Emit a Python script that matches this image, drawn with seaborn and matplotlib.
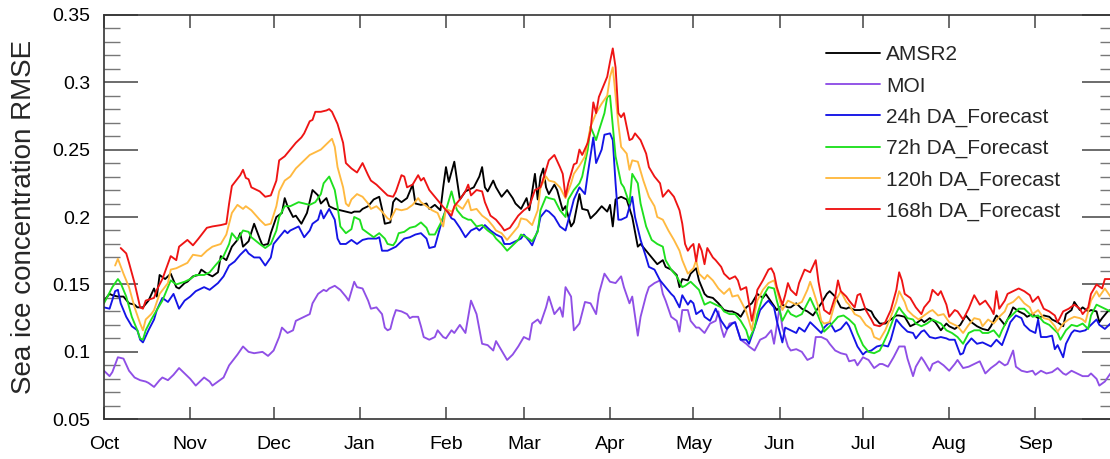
import matplotlib
matplotlib.use("Agg")
import numpy as np
import pandas as pd
import seaborn as sns
import matplotlib.pyplot as plt
from matplotlib.ticker import MultipleLocator, FixedLocator, NullLocator, FuncFormatter
from matplotlib.lines import Line2D

# ---------------- data (day index from 1 Oct, RMSE) ----------------
month_days = [0, 31, 61, 92, 123, 151, 182, 212, 243, 273, 304, 335]
month_labels = ["Oct", "Nov", "Dec", "Jan", "Feb", "Mar", "Apr", "May", "Jun", "Jul", "Aug", "Sep"]

series_names = ["AMSR2", "MOI", "24h DA_Forecast", "72h DA_Forecast",
                "120h DA_Forecast", "168h DA_Forecast"]
series_colors = ["#000000", "#8f4fe6", "#1414e6", "#1ee01e", "#ffb940", "#ee1414"]

amsr2_day = [0, 2, 3, 5, 7, 9, 11, 12, 14, 16, 18, 19, 20, 22, 24, 26, 27, 29, 30, 32, 34, 35, 37, 39, 41, 42, 44, 46, 48, 49, 50, 52, 54, 56, 57, 59, 60, 62, 64, 65, 66, 68, 69, 71, 73, 75, 77, 78, 80, 81, 83, 85, 87, 89, 90, 92, 93, 95, 97, 99, 100, 101, 103, 104, 105, 107, 109, 111, 112, 114, 116, 117, 119, 121, 122, 123, 124, 126, 127, 128, 130, 132, 133, 135, 136, 137, 138, 140, 141, 143, 145, 147, 148, 150, 152, 153, 155, 156, 157, 158, 159, 160, 162, 163, 165, 166, 168, 169, 171, 172, 174, 175, 177, 179, 181, 182, 183, 184, 186, 188, 190, 192, 193, 195, 197, 199, 201, 202, 204, 206, 207, 208, 210, 211, 213, 214, 216, 217, 219, 221, 223, 225, 226, 228, 229, 231, 233, 235, 237, 238, 240, 242, 244, 246, 247, 249, 251, 253, 255, 256, 258, 260, 261, 263, 265, 267, 268, 270, 272, 274, 276, 277, 279, 281, 283, 285, 286, 288, 290, 292, 294, 295, 297, 299, 301, 303, 304, 306, 308, 310, 312, 314, 316, 318, 319, 321, 322, 324, 326, 327, 329, 331, 332, 334, 336, 338, 340, 341, 343, 345, 346, 348, 349, 351, 352, 354, 355, 357, 358, 359, 361, 362, 364]
amsr2_val = [.138, .143, .142, .141, .141, .136, .135, .133, .133, .138, .147, .141, .157, .154, .158, .148, .147, .151, .152, .156, .157, .161, .158, .156, .159, .171, .168, .178, .183, .188, .178, .182, .195, .184, .179, .180, .188, .200, .203, .214, .208, .200, .201, .195, .203, .220, .216, .210, .214, .208, .206, .205, .204, .203, .204, .204, .206, .208, .213, .215, .206, .195, .196, .211, .214, .211, .214, .224, .210, .209, .210, .206, .209, .205, .222, .237, .226, .241, .227, .213, .219, .221, .222, .230, .237, .222, .219, .227, .222, .215, .220, .214, .210, .206, .214, .205, .232, .213, .230, .236, .222, .217, .224, .220, .205, .208, .193, .196, .217, .206, .205, .199, .203, .208, .204, .209, .193, .213, .215, .213, .200, .178, .180, .175, .170, .165, .168, .163, .161, .157, .148, .154, .153, .158, .162, .153, .143, .141, .140, .136, .131, .130, .130, .128, .126, .133, .136, .143, .140, .143, .137, .131, .135, .133, .133, .136, .132, .130, .127, .130, .136, .143, .145, .141, .133, .132, .133, .131, .131, .132, .130, .126, .121, .121, .124, .127, .127, .126, .119, .121, .124, .122, .125, .122, .116, .121, .119, .117, .120, .127, .122, .119, .117, .116, .119, .127, .125, .120, .128, .133, .130, .128, .126, .128, .125, .127, .126, .124, .122, .119, .128, .131, .137, .131, .133, .130, .131, .130, .122, .125, .130, .131, .130]

moi_day = [0, 2, 3, 5, 7, 9, 11, 13, 15, 16, 18, 20, 21, 23, 25, 27, 29, 31, 33, 35, 36, 38, 39, 41, 43, 45, 48, 50, 52, 54, 57, 59, 61, 63, 64, 66, 68, 69, 72, 74, 75, 77, 79, 80, 81, 83, 85, 87, 88, 90, 91, 93, 95, 96, 98, 100, 101, 102, 103, 104, 105, 107, 109, 110, 111, 113, 114, 115, 117, 119, 120, 122, 123, 125, 126, 128, 130, 132, 133, 134, 136, 138, 140, 141, 143, 145, 146, 147, 149, 151, 153, 154, 156, 157, 159, 160, 162, 164, 165, 166, 168, 169, 171, 173, 175, 177, 178, 180, 182, 184, 186, 187, 189, 190, 192, 193, 195, 196, 198, 200, 201, 202, 204, 206, 207, 208, 210, 211, 213, 214, 216, 218, 220, 221, 222, 223, 225, 227, 229, 231, 232, 234, 236, 238, 240, 241, 243, 244, 246, 247, 249, 251, 253, 255, 256, 258, 260, 261, 263, 265, 267, 268, 270, 271, 273, 275, 277, 279, 280, 282, 284, 286, 288, 289, 291, 292, 294, 295, 297, 298, 300, 302, 304, 306, 307, 309, 311, 313, 315, 317, 319, 321, 322, 324, 325, 327, 328, 330, 332, 334, 335, 337, 339, 341, 343, 345, 346, 348, 350, 352, 354, 355, 357, 358, 360, 362, 364]
moi_val = [.086, .082, .085, .096, .095, .086, .081, .079, .078, .077, .074, .079, .081, .079, .083, .088, .084, .080, .075, .079, .081, .078, .075, .078, .081, .090, .098, .104, .100, .099, .100, .097, .101, .111, .118, .114, .116, .123, .126, .128, .136, .143, .146, .145, .147, .149, .146, .141, .138, .152, .148, .147, .138, .132, .133, .128, .118, .116, .117, .125, .131, .130, .128, .125, .126, .126, .119, .111, .109, .111, .116, .111, .110, .116, .114, .120, .114, .138, .133, .128, .106, .105, .101, .108, .101, .094, .096, .098, .104, .111, .109, .121, .124, .121, .133, .141, .128, .133, .126, .148, .141, .116, .121, .137, .136, .128, .143, .158, .152, .151, .156, .148, .136, .141, .112, .126, .142, .148, .151, .153, .143, .138, .126, .123, .115, .131, .131, .123, .118, .118, .114, .121, .123, .130, .118, .111, .121, .122, .109, .106, .104, .101, .109, .111, .116, .106, .133, .118, .104, .101, .102, .100, .094, .096, .111, .111, .109, .106, .101, .099, .098, .093, .094, .090, .096, .094, .088, .091, .091, .089, .096, .104, .104, .095, .082, .089, .096, .093, .086, .091, .093, .090, .086, .091, .094, .088, .089, .091, .093, .084, .088, .091, .093, .090, .091, .101, .089, .086, .085, .086, .083, .086, .084, .085, .088, .084, .083, .086, .084, .082, .082, .084, .080, .075, .078, .084, .086]

f24_day = [0, 2, 4, 5, 6, 8, 10, 12, 13, 14, 16, 18, 19, 21, 23, 25, 27, 29, 31, 33, 36, 38, 41, 43, 45, 47, 49, 51, 52, 54, 56, 58, 60, 61, 63, 65, 66, 67, 70, 72, 74, 75, 77, 78, 79, 81, 83, 84, 85, 87, 89, 91, 93, 95, 96, 98, 99, 100, 102, 104, 105, 107, 108, 110, 112, 114, 116, 117, 119, 121, 123, 125, 126, 128, 130, 132, 134, 135, 137, 139, 141, 143, 144, 146, 148, 150, 151, 153, 154, 156, 157, 159, 160, 162, 164, 166, 168, 169, 171, 173, 174, 176, 177, 179, 180, 182, 183, 184, 185, 186, 188, 190, 191, 193, 195, 196, 198, 200, 202, 204, 205, 207, 208, 210, 211, 212, 213, 215, 216, 218, 220, 222, 224, 226, 227, 229, 231, 232, 234, 236, 238, 239, 241, 242, 244, 245, 247, 249, 250, 252, 254, 256, 258, 259, 261, 263, 265, 267, 268, 270, 271, 273, 274, 276, 278, 280, 282, 283, 285, 287, 289, 291, 292, 294, 295, 297, 299, 301, 303, 304, 306, 308, 309, 310, 312, 314, 316, 318, 319, 321, 323, 325, 326, 328, 330, 331, 333, 335, 336, 337, 339, 341, 342, 343, 345, 346, 348, 349, 351, 353, 355, 357, 358, 360, 362, 364]
f24_val = [.133, .132, .145, .146, .136, .126, .119, .116, .109, .107, .116, .124, .131, .140, .137, .143, .132, .138, .141, .145, .148, .146, .151, .156, .164, .167, .172, .176, .173, .170, .170, .164, .170, .180, .185, .190, .188, .190, .193, .185, .190, .195, .198, .205, .199, .206, .198, .184, .180, .180, .183, .180, .183, .184, .184, .184, .185, .175, .175, .177, .178, .182, .184, .185, .187, .188, .184, .177, .178, .193, .206, .199, .198, .192, .185, .190, .192, .190, .194, .190, .187, .185, .180, .180, .182, .184, .187, .182, .179, .190, .200, .205, .204, .200, .193, .190, .205, .213, .222, .217, .232, .259, .240, .250, .261, .262, .257, .225, .198, .198, .200, .215, .200, .183, .170, .163, .161, .153, .148, .143, .141, .133, .142, .135, .138, .136, .128, .131, .126, .123, .132, .123, .117, .121, .122, .109, .109, .106, .118, .131, .136, .138, .133, .123, .107, .118, .116, .114, .118, .115, .122, .118, .114, .118, .122, .115, .117, .122, .119, .109, .104, .098, .100, .101, .104, .105, .104, .109, .124, .119, .115, .114, .110, .115, .116, .111, .110, .111, .110, .109, .109, .098, .099, .105, .110, .106, .107, .105, .104, .109, .105, .116, .122, .127, .125, .120, .116, .114, .124, .111, .111, .112, .102, .105, .096, .106, .114, .116, .115, .116, .120, .124, .120, .117, .121, .120]

f72_day = [0, 3, 5, 6, 8, 10, 12, 13, 14, 15, 17, 19, 21, 23, 24, 26, 29, 31, 33, 36, 38, 40, 43, 45, 46, 48, 50, 52, 53, 56, 58, 60, 62, 63, 65, 67, 69, 70, 72, 74, 76, 78, 79, 81, 82, 83, 84, 85, 87, 89, 90, 92, 93, 95, 97, 99, 101, 102, 104, 105, 106, 108, 110, 112, 114, 116, 117, 119, 121, 123, 125, 126, 127, 129, 131, 132, 134, 136, 138, 140, 141, 143, 145, 147, 149, 150, 152, 154, 156, 157, 159, 160, 162, 164, 166, 167, 169, 171, 172, 174, 175, 177, 178, 180, 181, 182, 184, 186, 187, 189, 190, 192, 193, 195, 197, 199, 201, 202, 204, 206, 208, 209, 211, 213, 214, 216, 218, 220, 222, 223, 225, 227, 229, 231, 232, 234, 235, 237, 239, 241, 242, 244, 246, 247, 249, 251, 253, 254, 256, 258, 259, 261, 264, 266, 268, 270, 271, 273, 275, 277, 279, 280, 282, 284, 286, 287, 289, 291, 292, 294, 296, 298, 300, 301, 303, 305, 307, 309, 311, 313, 315, 316, 318, 320, 322, 323, 325, 327, 329, 331, 333, 334, 336, 338, 340, 342, 343, 344, 346, 348, 350, 352, 354, 355, 357, 359, 361, 362, 364]
f72_val = [.136, .148, .154, .151, .141, .126, .116, .110, .109, .116, .124, .131, .138, .148, .153, .150, .152, .154, .157, .157, .159, .164, .171, .180, .188, .183, .190, .189, .185, .180, .177, .180, .190, .200, .208, .208, .210, .211, .210, .209, .211, .217, .225, .230, .225, .220, .208, .193, .188, .191, .200, .198, .191, .188, .185, .188, .184, .180, .179, .182, .188, .189, .192, .193, .196, .192, .187, .187, .195, .205, .219, .211, .205, .200, .198, .198, .193, .194, .190, .187, .184, .180, .175, .179, .183, .187, .185, .182, .189, .205, .215, .214, .213, .205, .200, .213, .220, .225, .230, .250, .267, .257, .264, .277, .289, .290, .245, .225, .222, .210, .232, .225, .210, .193, .183, .180, .178, .168, .161, .156, .148, .149, .152, .148, .146, .135, .137, .135, .133, .130, .128, .128, .123, .116, .109, .118, .128, .141, .148, .147, .138, .123, .131, .128, .126, .128, .136, .140, .131, .121, .115, .119, .126, .127, .124, .120, .114, .105, .100, .099, .101, .105, .114, .125, .133, .130, .125, .124, .121, .119, .121, .124, .122, .121, .116, .114, .111, .106, .114, .116, .116, .114, .114, .116, .111, .116, .124, .128, .132, .132, .128, .126, .127, .122, .120, .116, .114, .109, .116, .120, .119, .121, .117, .127, .135, .133, .131, .130, .132]

f120_day = [4, 5, 7, 9, 11, 13, 14, 15, 17, 18, 20, 23, 24, 26, 28, 30, 32, 35, 37, 39, 42, 44, 46, 48, 50, 51, 53, 56, 58, 60, 62, 63, 65, 67, 69, 71, 72, 74, 76, 78, 79, 81, 82, 83, 84, 86, 87, 88, 89, 91, 93, 95, 96, 98, 100, 102, 103, 105, 107, 109, 111, 113, 114, 116, 118, 120, 122, 123, 125, 127, 129, 131, 132, 134, 136, 138, 140, 141, 143, 145, 147, 149, 150, 152, 154, 156, 157, 159, 160, 162, 164, 166, 168, 169, 171, 173, 175, 176, 177, 179, 181, 182, 183, 185, 186, 188, 189, 190, 192, 194, 196, 198, 199, 201, 203, 205, 207, 208, 210, 212, 213, 214, 216, 217, 219, 221, 223, 225, 226, 228, 229, 231, 232, 233, 234, 235, 237, 239, 241, 242, 244, 246, 247, 249, 251, 253, 254, 255, 257, 258, 259, 261, 263, 265, 267, 268, 270, 272, 274, 276, 277, 279, 281, 283, 285, 286, 288, 289, 291, 293, 295, 297, 298, 300, 302, 304, 306, 307, 309, 311, 313, 315, 316, 318, 320, 322, 324, 325, 327, 329, 331, 333, 334, 336, 338, 340, 342, 343, 345, 347, 349, 351, 352, 353, 355, 357, 358, 360, 362, 364]
f120_val = [.164, .169, .158, .148, .133, .121, .116, .124, .128, .131, .143, .151, .161, .162, .164, .166, .172, .171, .175, .178, .180, .187, .203, .209, .206, .208, .205, .198, .194, .195, .208, .219, .227, .230, .236, .240, .242, .246, .248, .250, .252, .256, .258, .252, .237, .222, .210, .208, .213, .217, .215, .210, .206, .208, .204, .199, .198, .206, .205, .206, .209, .214, .211, .208, .205, .203, .193, .206, .204, .209, .206, .213, .205, .206, .201, .198, .193, .190, .188, .183, .188, .193, .199, .198, .194, .205, .222, .230, .227, .226, .222, .214, .225, .232, .238, .245, .267, .272, .277, .284, .290, .304, .311, .269, .252, .247, .235, .242, .241, .227, .215, .208, .200, .198, .190, .183, .175, .168, .158, .162, .168, .158, .154, .157, .153, .147, .143, .147, .141, .142, .138, .130, .123, .116, .128, .138, .146, .151, .153, .146, .131, .138, .137, .135, .137, .146, .152, .146, .133, .123, .121, .122, .137, .145, .137, .135, .128, .126, .120, .117, .111, .109, .116, .126, .137, .145, .137, .131, .127, .124, .127, .130, .131, .127, .128, .122, .120, .119, .114, .120, .125, .124, .119, .124, .121, .126, .130, .135, .137, .141, .136, .133, .128, .131, .125, .124, .119, .115, .121, .124, .126, .125, .124, .122, .138, .145, .141, .147, .141, .143]

f168_day = [6, 8, 9, 11, 13, 14, 15, 18, 19, 21, 24, 26, 27, 30, 32, 34, 37, 39, 42, 44, 45, 46, 49, 50, 51, 52, 53, 56, 58, 60, 62, 63, 65, 67, 69, 71, 72, 74, 75, 76, 78, 80, 81, 82, 84, 86, 87, 89, 91, 93, 95, 96, 98, 100, 102, 104, 105, 107, 108, 109, 111, 113, 114, 115, 117, 119, 121, 123, 125, 126, 128, 130, 131, 132, 134, 136, 137, 139, 141, 143, 144, 146, 147, 149, 151, 153, 155, 157, 159, 160, 162, 164, 165, 166, 167, 169, 170, 171, 172, 174, 175, 176, 177, 178, 180, 181, 182, 183, 184, 185, 186, 187, 189, 190, 191, 193, 195, 196, 198, 200, 201, 203, 205, 207, 208, 209, 210, 211, 212, 213, 214, 215, 216, 217, 219, 220, 222, 223, 225, 227, 228, 229, 231, 232, 233, 234, 235, 237, 239, 240, 241, 242, 244, 245, 246, 247, 249, 250, 252, 254, 256, 257, 258, 259, 261, 263, 264, 265, 267, 268, 270, 271, 272, 274, 276, 277, 279, 281, 283, 285, 286, 287, 288, 290, 292, 294, 295, 297, 298, 300, 301, 303, 304, 306, 307, 309, 311, 312, 313, 315, 317, 319, 320, 321, 322, 324, 325, 327, 329, 331, 333, 334, 336, 338, 340, 342, 343, 345, 347, 349, 351, 352, 354, 355, 357, 359, 360, 362, 364]
f168_val = [.177, .173, .166, .151, .133, .132, .138, .140, .146, .154, .171, .168, .178, .183, .179, .184, .192, .193, .194, .195, .210, .223, .231, .235, .229, .228, .222, .219, .215, .216, .227, .242, .245, .250, .255, .259, .262, .271, .272, .278, .278, .279, .280, .278, .269, .255, .240, .236, .233, .240, .231, .227, .224, .220, .216, .215, .219, .231, .230, .222, .224, .231, .227, .229, .220, .215, .210, .205, .201, .208, .213, .219, .224, .216, .220, .219, .211, .201, .198, .193, .190, .192, .195, .201, .205, .208, .220, .222, .235, .242, .246, .237, .232, .215, .225, .239, .240, .250, .246, .255, .264, .285, .277, .289, .299, .304, .315, .325, .311, .277, .274, .277, .257, .258, .262, .257, .247, .237, .230, .225, .215, .220, .215, .205, .195, .180, .175, .178, .180, .167, .180, .175, .165, .177, .170, .168, .163, .158, .154, .156, .153, .146, .148, .136, .123, .133, .146, .153, .161, .162, .158, .148, .135, .142, .151, .146, .142, .151, .161, .159, .168, .152, .141, .131, .128, .141, .153, .145, .141, .138, .133, .142, .143, .131, .124, .120, .119, .122, .131, .146, .159, .153, .143, .140, .133, .128, .133, .138, .146, .142, .145, .135, .126, .131, .130, .124, .132, .137, .142, .135, .138, .132, .128, .145, .132, .138, .143, .145, .147, .145, .142, .137, .141, .132, .130, .127, .122, .130, .132, .135, .132, .128, .133, .143, .150, .147, .154, .154, .155]

# ---------------- build long table ----------------
all_days = [amsr2_day, moi_day, f24_day, f72_day, f120_day, f168_day]
all_vals = [amsr2_val, moi_val, f24_val, f72_val, f120_val, f168_val]
frames = []
for name, d, v in zip(series_names, all_days, all_vals):
    frames.append(pd.DataFrame({"day": d, "rmse": v, "series": name}))
df = pd.concat(frames, ignore_index=True)

sns.set_theme(style="white")
plt.rcParams["font.family"] = ["Liberation Sans", "DejaVu Sans"]

W, H = 1110, 459
fig = plt.figure(figsize=(W / 100, H / 100), dpi=100)
left_px, right_px, top_px, bot_px = 104, 1116, 14.7, 419.3
ax = fig.add_axes([left_px / W, (H - bot_px) / H, (right_px - left_px) / W, (bot_px - top_px) / H])

palette = dict(zip(series_names, series_colors))
sns.lineplot(data=df, x="day", y="rmse", hue="series", hue_order=series_names,
             palette=palette, estimator=None, sort=True, linewidth=1.35,
             legend=False, ax=ax)

ax.set_xlim(0, 364)
ax.set_ylim(0.05, 0.35)
ax.set_xlabel("")
ax.set_ylabel("Sea ice concentration RMSE", fontsize=20)
ax.yaxis.set_label_coords(-0.066, 0.5)

ax.xaxis.set_major_locator(FixedLocator(month_days))
ax.set_xticklabels(month_labels)
ax.xaxis.set_minor_locator(NullLocator())
ax.yaxis.set_major_locator(MultipleLocator(0.05))
ax.yaxis.set_minor_locator(MultipleLocator(0.01))
ax.yaxis.set_major_formatter(FuncFormatter(lambda v, p: f"{v:g}"))

tick_col = "#444444"
ax.tick_params(axis="x", which="major", direction="in", length=9, width=1.1,
               top=True, bottom=True, labelsize=14, pad=12, color=tick_col, labelcolor="black")
ax.tick_params(axis="y", which="major", direction="in", length=24.5, width=1.1,
               left=True, right=True, labelsize=14, pad=10, color=tick_col, labelcolor="black")
ax.tick_params(axis="y", which="minor", direction="in", length=11.5, width=1.0,
               left=True, right=True, color="#777777")
for s in ax.spines.values():
    s.set_color("#333333")
    s.set_linewidth(1.2)

handles = [Line2D([0], [0], color=c, lw=1.35) for c in series_colors]
ax.legend(handles, series_names, loc="upper left",
          bbox_to_anchor=(826 / W, 1 - 45.5 / H), bbox_transform=fig.transFigure,
          frameon=False, fontsize=15, handlelength=2.6, handletextpad=0.3,
          labelspacing=0.58, borderpad=0, borderaxespad=0)

fig.savefig("out.png", dpi=100)
